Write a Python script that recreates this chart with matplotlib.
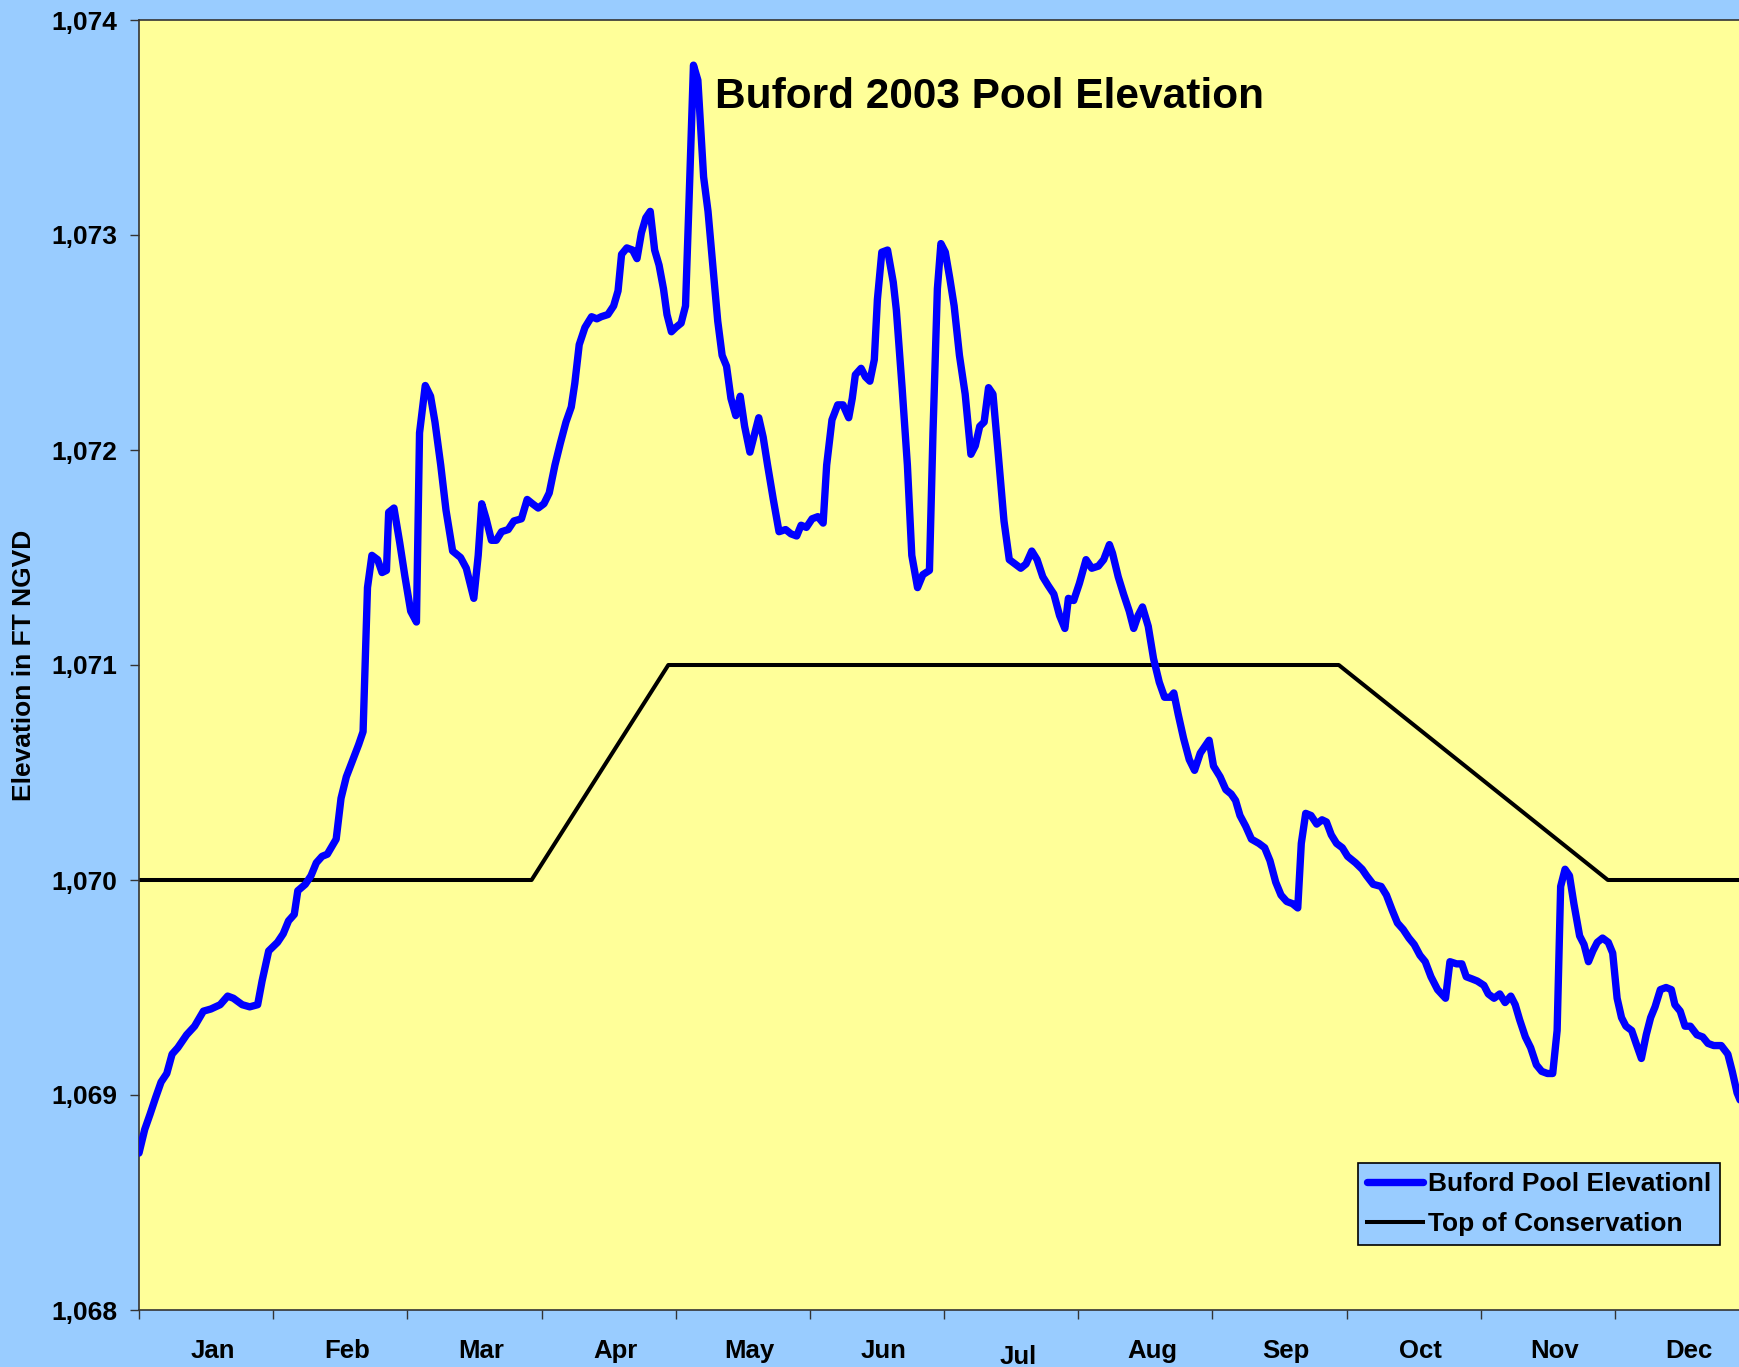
import matplotlib
matplotlib.use("Agg")
import matplotlib.pyplot as plt
from matplotlib.ticker import FuncFormatter, FixedLocator

plt.rcParams['font.family'] = ['Liberation Sans', 'DejaVu Sans']
plt.rcParams['font.weight'] = 'bold'

# day of year (axis spans 12 equal month slots of 365/12 days)
pool_day = [
    0, 1.3, 2.5, 3.8, 5.0, 6.3, 7.5, 8.8, 10.8, 12.6, 14.6, 16.3, 18.4, 20.1, 21.4,
    23.4, 25.1, 26.9, 27.9, 29.4, 31.4, 32.7, 33.9, 35.2, 36.0, 37.7, 39.0, 40.2,
    41.5, 42.7, 44.7, 45.8, 47.0, 48.5, 49.8, 50.8, 51.8, 52.8, 54.1, 55.1, 56.1,
    56.6, 57.8, 59.1, 60.3, 61.6, 62.9, 63.6, 64.9, 66.1, 67.1, 68.4, 69.6, 71.1,
    72.9, 74.2, 75.9, 76.9, 77.7, 78.7, 79.9, 81.0, 82.2, 83.7, 85.0, 86.7, 88.0,
    89.2, 90.5, 91.8, 93.0, 94.3, 95.5, 96.8, 98.0, 98.8, 99.8, 101.1, 102.6,
    103.8, 104.8, 106.3, 107.6, 108.6, 109.4, 110.6, 111.9, 112.9, 113.9, 114.9,
    115.9, 116.9, 117.9, 118.9, 119.7, 120.7, 121.7, 122.9, 123.9, 124.7, 125.7,
    126.7, 128.0, 129.0, 130.2, 131.2, 132.2, 133.2, 134.2, 135.3, 136.3, 137.3,
    138.5, 139.5, 140.5, 141.5, 142.5, 143.8, 145.1, 146.6, 147.8, 149.1, 150.1,
    151.3, 152.6, 153.9, 155.1, 155.9, 157.1, 158.4, 159.6, 160.9, 161.7, 162.4,
    163.7, 164.7, 165.7, 166.7, 167.4, 168.4, 169.7, 171.0, 171.7, 173.0, 174.2,
    175.2, 176.5, 177.7, 179.2, 180.0, 181.0, 181.8, 182.8, 183.8, 184.8, 186.0,
    187.3, 188.6, 189.6, 190.6, 191.6, 192.6, 193.6, 194.8, 196.1, 197.3, 198.6,
    199.9, 201.1, 202.4, 203.6, 204.9, 206.1, 207.4, 208.7, 209.9, 210.7, 211.9,
    213.2, 214.7, 216.0, 217.5, 218.7, 220.0, 220.7, 222.0, 223.2, 224.5, 225.5,
    226.5, 227.5, 228.8, 230.0, 231.3, 232.5, 233.8, 234.6, 235.6, 236.8, 238.1,
    239.3, 240.6, 242.6, 243.6, 245.1, 246.4, 247.6, 248.6, 249.6, 250.9, 252.2,
    253.9, 255.2, 256.4, 257.7, 258.9, 260.2, 261.5, 262.7, 263.5, 264.5, 265.7,
    267.0, 268.2, 269.2, 270.3, 271.5, 272.8, 274.0, 275.8, 277.3, 278.3, 279.8,
    281.6, 282.8, 284.1, 285.3, 286.6, 287.9, 289.1, 290.4, 291.6, 292.9, 294.4,
    296.2, 297.2, 298.7, 299.9, 300.9, 302.2, 303.4, 304.9, 305.9, 307.2, 308.5,
    309.7, 311.0, 312.0, 313.0, 314.3, 315.5, 316.8, 318.0, 319.3, 320.5, 321.5,
    322.3, 323.3, 324.3, 325.3, 326.6, 327.6, 328.6, 329.6, 330.6, 331.8, 333.1,
    334.1, 335.1, 336.1, 337.1, 338.4, 339.4, 340.6, 341.7, 342.7, 343.7, 344.9,
    346.2, 347.4, 348.2, 349.4, 350.5, 351.7, 353.2, 354.5, 355.7, 357.0, 358.7,
    360.2, 361.2, 362.3, 363.3,
]
pool_elev = [
    1068.73, 1068.84, 1068.91, 1068.99, 1069.06, 1069.10, 1069.19, 1069.22, 1069.28,
    1069.32, 1069.39, 1069.40, 1069.42, 1069.46, 1069.45, 1069.42, 1069.41, 1069.42,
    1069.53, 1069.67, 1069.71, 1069.75, 1069.81, 1069.84, 1069.95, 1069.98, 1070.02,
    1070.08, 1070.11, 1070.12, 1070.19, 1070.38, 1070.48, 1070.56, 1070.63, 1070.69,
    1071.36, 1071.51, 1071.49, 1071.43, 1071.44, 1071.71, 1071.73, 1071.57, 1071.41,
    1071.25, 1071.20, 1072.08, 1072.30, 1072.25, 1072.13, 1071.93, 1071.72, 1071.53,
    1071.50, 1071.45, 1071.31, 1071.51, 1071.75, 1071.68, 1071.58, 1071.58, 1071.62,
    1071.63, 1071.67, 1071.68, 1071.77, 1071.75, 1071.73, 1071.75, 1071.80, 1071.93,
    1072.03, 1072.13, 1072.20, 1072.31, 1072.49, 1072.57, 1072.62, 1072.61, 1072.62,
    1072.63, 1072.67, 1072.74, 1072.91, 1072.94, 1072.93, 1072.89, 1073.01, 1073.08,
    1073.11, 1072.93, 1072.86, 1072.75, 1072.63, 1072.55, 1072.57, 1072.59, 1072.67,
    1073.16, 1073.79, 1073.72, 1073.27, 1073.11, 1072.83, 1072.60, 1072.44, 1072.39,
    1072.24, 1072.16, 1072.25, 1072.11, 1071.99, 1072.07, 1072.15, 1072.06, 1071.93,
    1071.77, 1071.62, 1071.63, 1071.61, 1071.60, 1071.65, 1071.64, 1071.68, 1071.69,
    1071.66, 1071.93, 1072.14, 1072.21, 1072.21, 1072.15, 1072.24, 1072.35, 1072.38,
    1072.34, 1072.32, 1072.42, 1072.70, 1072.92, 1072.93, 1072.78, 1072.65, 1072.29,
    1071.93, 1071.51, 1071.36, 1071.42, 1071.44, 1072.08, 1072.75, 1072.96, 1072.92,
    1072.80, 1072.67, 1072.44, 1072.26, 1071.98, 1072.02, 1072.11, 1072.13, 1072.29,
    1072.26, 1071.98, 1071.67, 1071.49, 1071.47, 1071.45, 1071.47, 1071.53, 1071.49,
    1071.41, 1071.37, 1071.33, 1071.23, 1071.17, 1071.31, 1071.30, 1071.38, 1071.49,
    1071.45, 1071.46, 1071.49, 1071.56, 1071.52, 1071.41, 1071.33, 1071.25, 1071.17,
    1071.23, 1071.27, 1071.18, 1071.03, 1070.92, 1070.85, 1070.85, 1070.87, 1070.77,
    1070.66, 1070.56, 1070.51, 1070.59, 1070.65, 1070.53, 1070.48, 1070.42, 1070.40,
    1070.37, 1070.30, 1070.25, 1070.19, 1070.17, 1070.15, 1070.09, 1069.99, 1069.93,
    1069.90, 1069.89, 1069.87, 1070.17, 1070.31, 1070.30, 1070.26, 1070.28, 1070.27,
    1070.21, 1070.17, 1070.15, 1070.11, 1070.08, 1070.05, 1070.02, 1069.98, 1069.97,
    1069.93, 1069.86, 1069.80, 1069.77, 1069.73, 1069.70, 1069.65, 1069.62, 1069.55,
    1069.49, 1069.45, 1069.62, 1069.61, 1069.61, 1069.55, 1069.54, 1069.53, 1069.51,
    1069.47, 1069.45, 1069.47, 1069.43, 1069.46, 1069.42, 1069.35, 1069.27, 1069.22,
    1069.14, 1069.11, 1069.10, 1069.10, 1069.30, 1069.97, 1070.05, 1070.02, 1069.89,
    1069.74, 1069.70, 1069.62, 1069.67, 1069.71, 1069.73, 1069.71, 1069.66, 1069.45,
    1069.36, 1069.32, 1069.30, 1069.24, 1069.17, 1069.28, 1069.36, 1069.41, 1069.49,
    1069.50, 1069.49, 1069.42, 1069.39, 1069.32, 1069.32, 1069.28, 1069.27, 1069.24,
    1069.23, 1069.23, 1069.19, 1069.11, 1069.01, 1068.96,
]

rule_day = [0, 89, 120, 272, 333, 365]
rule_elev = [1070, 1070, 1071, 1071, 1070, 1070]

months = ['Jan', 'Feb', 'Mar', 'Apr', 'May', 'Jun',
          'Jul', 'Aug', 'Sep', 'Oct', 'Nov', 'Dec']
month_len = 365 / 12

W, H = 1739, 1367
fig = plt.figure(figsize=(W / 100, H / 100), dpi=100, facecolor='#99CCFF')
ax = fig.add_axes([139 / W, 57 / H, 1610 / W, 1290 / H], facecolor='#FFFF99')

ax.plot(pool_day, pool_elev, color='#0000FF', lw=5.3, solid_joinstyle='round',
        solid_capstyle='round', label='Buford Pool Elevationl', zorder=3)
ax.plot(rule_day, rule_elev, color='black', lw=2.9, label='Top of Conservation',
        zorder=2)

ax.set_xlim(0, 365)
ax.set_ylim(1068, 1074)
ax.set_yticks(range(1068, 1075))
ax.yaxis.set_major_formatter(FuncFormatter(lambda v, p: f'{v:,.0f}'))
ax.xaxis.set_major_locator(FixedLocator([i * month_len for i in range(13)]))
ax.set_xticklabels([])
ax.tick_params(axis='both', direction='out', length=6.5, width=1, color='#333333')
ax.tick_params(axis='y', labelsize=19, pad=9)
for t in ax.get_yticklabels():
    t.set_fontweight('bold')

# month names sit between the ticks; Excel dropped "Jul" a little lower
for i, m in enumerate(months):
    drop = 25 if m == 'Jul' else 21
    ax.annotate(m, xy=((i + 0.55) * month_len, 0), xycoords=('data', 'axes fraction'),
                xytext=(0, -drop), textcoords='offset points', ha='center', va='top',
                fontsize=18.5, fontweight='bold', annotation_clip=False)

for s in ax.spines.values():
    s.set_color('#333333')
    s.set_linewidth(1.2)

fig.text(24 / W, 1 - 665 / H, 'Elevation in FT NGVD', rotation=90, ha='center',
         va='center', fontsize=19, fontweight='bold')
fig.text(715 / W, 1 - 97 / H, 'Buford 2003 Pool Elevation', ha='left', va='center',
         fontsize=30.5, fontweight='bold')

leg = ax.legend(loc='upper left', bbox_to_anchor=(1358 / W, 1 - 1163 / H),
                bbox_transform=fig.transFigure, fontsize=19, frameon=True,
                fancybox=False, facecolor='#99CCFF', edgecolor='black',
                framealpha=1, borderpad=0.35, labelspacing=0.6,
                handlelength=2.1, handletextpad=0.2, borderaxespad=0)
leg.get_frame().set_linewidth(1.2)
for t in leg.get_texts():
    t.set_fontweight('bold')

fig.savefig('out.png', dpi=100, facecolor=fig.get_facecolor())
